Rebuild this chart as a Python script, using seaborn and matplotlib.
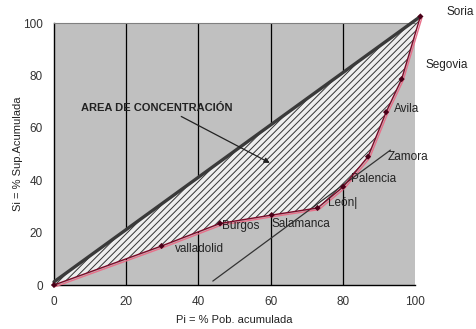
import matplotlib
matplotlib.use("Agg")
import matplotlib.pyplot as plt
import seaborn as sns

# curva de Lorenz (provincias)
pob = [0, 29.8, 46.0, 60.3, 73.0, 80.1, 87.0, 92.0, 96.3, 101.5]
sup = [0, 14.9, 23.5, 26.7, 29.4, 37.5, 49.0, 66.0, 78.6, 102.5]
provincias = ["", "valladolid", "Burgos", "Salamanca", "León|", "Palencia",
              "Zamora", "Avila", "Segovia", "Soria"]
# desplazamiento de cada etiqueta (pixeles)
offsets = [(0, 0), (13, -3), (2, -3), (0, -9), (10, 5), (8, 8),
           (20, 0), (8, 3), (24, 14), (26, 4)]

# linea de equidistribucion
diag_x = [0, pob[-1]]
diag_y = [1.2, sup[-1]]

sns.set_style("white")
plt.rcParams['font.family'] = ['Liberation Sans', 'DejaVu Sans']
plt.rcParams['hatch.linewidth'] = 0.7

fig = plt.figure(figsize=(4.76, 3.29), dpi=100)
ax = fig.add_axes([0.1134, 0.1337, 0.7584, 0.7963])
ax.set_facecolor('#c0c0c0')

# area de concentracion
poly_x = diag_x + pob[::-1]
poly_y = diag_y + sup[::-1]
ax.fill(poly_x, poly_y, facecolor='#eeeeee', edgecolor='#333333', lw=0,
        hatch='/////', clip_on=False, zorder=2)

for gx in [20, 40, 60, 80]:
    ax.axvline(gx, color='black', lw=0.9, zorder=1)

sns.lineplot(x=diag_x, y=diag_y, ax=ax, color='#3a3a3a', lw=2.4, zorder=3)
ax.lines[-1].set_clip_on(False)
sns.lineplot(x=[p + 0.4 for p in pob], y=[s - 0.6 for s in sup], ax=ax,
             color='#e8708a', lw=1.0, zorder=3, sort=False)
ax.lines[-1].set_clip_on(False)
sns.lineplot(x=pob, y=sup, ax=ax, color='#7a0a28', lw=1.0, zorder=4, sort=False)
ax.lines[-1].set_clip_on(False)
sns.scatterplot(x=pob, y=sup, ax=ax, color='#4a0018', marker='D', s=10,
                edgecolor='none', zorder=5, clip_on=False)

for px, sy, name, off in zip(pob, sup, provincias, offsets):
    if name:
        ax.annotate(name, (px, sy), xytext=off, textcoords='offset pixels',
                    ha='left', va='center', fontsize=8.5, color='#222222',
                    annotation_clip=False)

ax.annotate('AREA DE CONCENTRACIÓN', (59.8, 46.6), xytext=(7.5, 67.5),
            fontsize=8, fontweight='bold', color='#222222', ha='left', va='center',
            arrowprops=dict(arrowstyle='-|>', color='#222222', lw=0.9,
                            shrinkA=0, shrinkB=0, relpos=(0.62, 0)))
ax.annotate('', (93.2, 51.5), xytext=(44.0, 1.5),
            arrowprops=dict(arrowstyle='-', color='#333333', lw=0.9,
                            shrinkA=0, shrinkB=0))

ax.set_xlim(0, 100)
ax.set_ylim(0, 100)
ax.set_xticks([0, 20, 40, 60, 80, 100])
ax.set_yticks([0, 20, 40, 60, 80, 100])
ax.tick_params(axis='both', direction='out', length=3, width=0.8,
               labelsize=8.5, labelcolor='#333333', color='black', pad=5)
for side in ['left', 'bottom']:
    ax.spines[side].set_color('black')
    ax.spines[side].set_linewidth(1.0)
ax.spines['top'].set_color('#808080')
ax.spines['right'].set_visible(False)
ax.set_xlabel('Pi = % Pob. acumulada', fontsize=8, color='#222222', labelpad=5)
ax.set_ylabel('Si = % Sup.Acumulada', fontsize=8, color='#222222')
ax.yaxis.set_label_coords(-0.086, 0.5)

fig.savefig('out.png', dpi=100)
